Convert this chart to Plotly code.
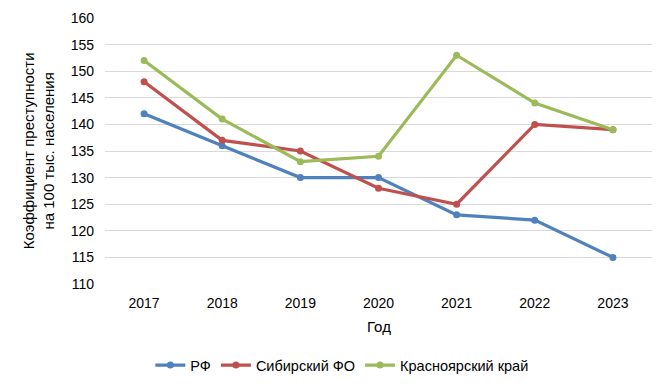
import plotly.graph_objects as go

years = ["2017", "2018", "2019", "2020", "2021", "2022", "2023"]
rf = [142, 136, 130, 130, 123, 122, 115]
sfo = [148, 137, 135, 128, 125, 140, 139]
kk = [152, 141, 133, 134, 153, 144, 139]

series = [
    ("РФ", rf, "#4F81BD"),
    ("Сибирский ФО", sfo, "#C0504D"),
    ("Красноярский край", kk, "#9BBB59"),
]

fig = go.Figure()
for name, vals, col in series:
    fig.add_trace(go.Scatter(
        x=years, y=vals, name=name, mode="lines+markers",
        line=dict(color=col, width=3.2),
        marker=dict(color=col, size=7),
    ))

font = dict(family="Liberation Sans, Arial, sans-serif", size=14, color="#000000")

fig.update_layout(
    width=670, height=390,
    margin=dict(l=97, r=26, t=10, b=114, autoexpand=False),
    paper_bgcolor="white", plot_bgcolor="white",
    font=font,
    showlegend=True,
    legend=dict(orientation="h", x=0.433, xanchor="center", y=-0.305, yanchor="middle",
                font=dict(size=14.5), traceorder="normal"),
    xaxis=dict(type="category", range=[-0.5, 6.5], showgrid=False, showline=False, ticks="",
               tickfont=font, ticklabelstandoff=9),
    yaxis=dict(range=[110, 160], dtick=5, showgrid=True, gridcolor="#D9D9D9",
               gridwidth=1, zeroline=False, showline=False, ticks="",
               tickfont=font, ticklabelstandoff=10),
    annotations=[
        dict(text="Год", xref="paper", yref="paper", x=0.5, y=-0.12,
             xanchor="center", yanchor="top", showarrow=False, font=dict(size=15)),
        dict(text="Коэффициент преступности<br>на 100 тыс. населения", xref="paper", yref="paper",
             x=-0.122, y=0.5, xanchor="center", yanchor="middle", textangle=-90,
             showarrow=False, font=dict(size=15)),
    ],
)

fig.write_html("out.html")
